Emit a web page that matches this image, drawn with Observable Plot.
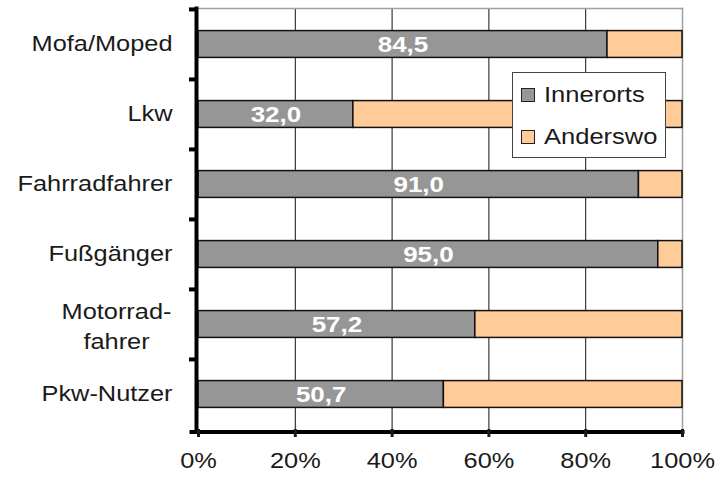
<!DOCTYPE html>
<html>
<head>
<meta charset="utf-8">
<script src="https://cdn.jsdelivr.net/npm/d3@7"></script>
<script src="https://cdn.jsdelivr.net/npm/@observablehq/plot@0.6"></script>
<style>
  html, body { margin: 0; padding: 0; background: #fff; }
  #wrap { position: relative; width: 719px; height: 477px; font-family: "Liberation Sans", Arial, sans-serif; }
  #legend { position: absolute; left: 512px; top: 72px; width: 152px; height: 84px; border: 1px solid #444; background: #fff; }
  .sw { position: absolute; left: 8px; width: 12px; height: 12px; border: 1.5px solid #222; }
  .lt { position: absolute; left: 31px; font-size: 22px; line-height: 22px; color: #1a1a1a; transform: scaleX(1.16); transform-origin: left center; white-space: nowrap; }
</style>
</head>
<body>
<div id="wrap"></div>
<script>
const categories = ["Mofa/Moped", "Lkw", "Fahrradfahrer", "Fußgänger", "Motorrad-\nfahrer", "Pkw-Nutzer"];
const innerorts = [84.5, 32.0, 91.0, 95.0, 57.2, 50.7];
const anderswo = [15.5, 68.0, 9.0, 5.0, 42.8, 49.3];
const series = ["Innerorts", "Anderswo"];
const colors = ["#969696", "#FFCC99"];
const xTicks = [0, 20, 40, 60, 80, 100];

const rows = [];
categories.forEach((c, i) => {
  rows.push({cat: c, series: series[0], value: innerorts[i]});
  rows.push({cat: c, series: series[1], value: anderswo[i]});
});
const innerRows = rows.filter(d => d.series === series[0]);
const fmt = v => d3.format(".1f")(v).replace(".", ",");

const W = 719, H = 477, mT = 8, mB = 48, mL = 198, mR = 37;
const bw = (H - mT - mB) / categories.length;
const barH = 27;
const inset = (bw - barH) / 2;

const singleLine = categories.filter(c => !c.includes("\n"));
const multiLine = categories.filter(c => c.includes("\n"));

const chart = Plot.plot({
  width: W, height: H,
  marginTop: mT, marginBottom: mB, marginLeft: mL, marginRight: mR,
  style: {fontFamily: "'Liberation Sans', Arial, sans-serif", background: "white", color: "black"},
  x: {domain: [0, 100], axis: null, label: null},
  y: {domain: categories, padding: 0, axis: null, label: null},
  color: {domain: series, range: colors},
  marks: [
    Plot.gridX({ticks: [20, 40, 60, 80], stroke: "#111", strokeOpacity: 1, strokeWidth: 1}),
    Plot.frame({anchor: "top", stroke: "#a0a0a0", strokeWidth: 1.5}),
    Plot.frame({anchor: "right", stroke: "#a0a0a0", strokeWidth: 1.5}),
    Plot.barX(rows, {x: "value", y: "cat", fill: "series", stroke: "#111", strokeWidth: 1.5, insetTop: inset, insetBottom: inset}),
    Plot.text(innerRows, {x: d => d.value / 2, y: "cat", text: d => fmt(d.value), fill: "white", fontWeight: "bold", fontSize: 22}),
    Plot.frame({anchor: "left", stroke: "black", strokeWidth: 4, dx: -2}),
    Plot.frame({anchor: "bottom", stroke: "black", strokeWidth: 4, dy: 2.5, insetLeft: -7}),
    Plot.axisY({tickFormat: () => "", label: null, tickSize: 9, strokeWidth: 4, dy: -bw / 2, color: "black"}),
    Plot.axisX({ticks: xTicks, tickFormat: d => d + "%", label: null, tickSize: 8, tickPadding: 15, strokeWidth: 3, fontSize: 21.5, color: "#1a1a1a"}),
    Plot.text(singleLine, {y: d => d, frameAnchor: "left", textAnchor: "end", dx: -26, fontSize: 21.5, fill: "#1a1a1a"}),
    Plot.text(multiLine, {y: d => d, frameAnchor: "left", textAnchor: "middle", dx: -82, fontSize: 21.5, lineHeight: 1.4, fill: "#1a1a1a"})
  ]
});

chart.querySelectorAll("text").forEach(t => {
  const tr = t.getAttribute("transform");
  t.setAttribute("transform", (tr ? tr + " " : "") + "scale(1.18,1)");
});

const wrap = document.getElementById("wrap");
wrap.appendChild(chart);

const legend = document.createElement("div");
legend.id = "legend";
const swTops = [15, 57];
const txtTops = [11, 53];
series.forEach((s, i) => {
  const sw = document.createElement("div");
  sw.className = "sw";
  sw.style.top = swTops[i] + "px";
  sw.style.background = colors[i];
  legend.appendChild(sw);
  const lt = document.createElement("div");
  lt.className = "lt";
  lt.style.top = txtTops[i] + "px";
  lt.textContent = s;
  legend.appendChild(lt);
});
wrap.appendChild(legend);
</script>
</body>
</html>
